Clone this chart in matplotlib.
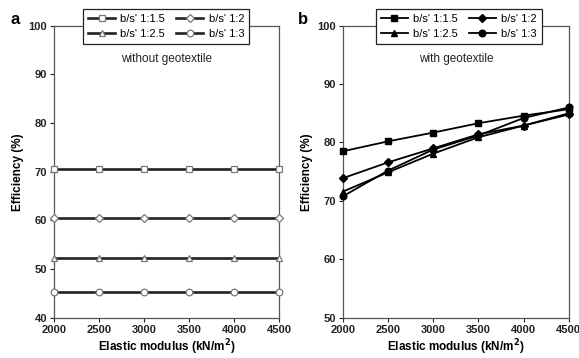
import matplotlib
matplotlib.use("Agg")
import matplotlib.pyplot as plt

plt.rcParams['font.family'] = ['Liberation Sans', 'DejaVu Sans']

modulus = [2000, 2500, 3000, 3500, 4000, 4500]
labels = ["b/s' 1:1.5", "b/s' 1:2", "b/s' 1:2.5", "b/s' 1:3"]

# panel a: without geotextile
a_15 = [70.5, 70.5, 70.5, 70.5, 70.5, 70.5]
a_2 = [60.5, 60.5, 60.5, 60.5, 60.5, 60.5]
a_25 = [52.3, 52.3, 52.3, 52.3, 52.3, 52.3]
a_3 = [45.3, 45.3, 45.3, 45.3, 45.3, 45.3]

# panel b: with geotextile
b_15 = [78.5, 80.2, 81.7, 83.3, 84.6, 85.7]
b_2 = [73.9, 76.6, 79.0, 81.4, 82.9, 84.8]
b_25 = [71.6, 74.9, 78.1, 80.9, 82.9, 85.0]
b_3 = [70.8, 75.2, 78.8, 81.2, 84.2, 86.0]

markers = ['s', 'D', '^', 'o']
msizes = [4.3, 4.3, 5.0, 4.8]

fig = plt.figure(figsize=(5.79, 3.58), dpi=100)
axa = fig.add_axes([0.0933, 0.1126, 0.389, 0.8156])
axb = fig.add_axes([0.5924, 0.1126, 0.390, 0.8156])

for ax, series, ylim, yt, filled, note, legx in [
    (axa, [a_15, a_2, a_25, a_3], (40, 100), range(40, 101, 10), False, "without geotextile", 0.498),
    (axb, [b_15, b_2, b_25, b_3], (50, 100), range(50, 101, 10), True, "with geotextile", 0.513),
]:
    handles = []
    for s, m, ms, lab in zip(series, markers, msizes, labels):
        if filled:
            h, = ax.plot(modulus, s, color='black', lw=1.3, marker=m, ms=ms,
                         mfc='black', mec='black', label=lab, clip_on=False, zorder=3)
        else:
            h, = ax.plot(modulus, s, color='#222222', lw=1.9, marker=m, ms=ms,
                         mfc='white', mec='#777777', mew=0.9, label=lab, clip_on=False, zorder=3)
        handles.append(h)
    ax.set_xlim(2000, 4500)
    ax.set_ylim(*ylim)
    ax.set_xticks(modulus)
    ax.set_yticks(list(yt))
    ax.tick_params(direction='out', length=3, width=0.8, labelsize=8, pad=2, colors='#222222')
    for t in ax.get_xticklabels() + ax.get_yticklabels():
        t.set_fontweight('bold')
    for sp in ax.spines.values():
        sp.set_color('#555555')
        sp.set_linewidth(0.9)
    ax.set_xlabel('Elastic modulus (kN/m$^\\mathbf{2}$)', fontsize=8.5, fontweight='bold', labelpad=2)
    ax.set_ylabel('Efficiency (%)', fontsize=8.5, fontweight='bold', labelpad=3)
    ax.text(0.5, 0.885, note, transform=ax.transAxes, ha='center', va='center', fontsize=8.5, color='#222222')
    order = [0, 2, 1, 3]
    leg = ax.legend([handles[i] for i in order], [labels[i] for i in order],
                    loc='center', bbox_to_anchor=(legx, 0.997), ncol=2, fontsize=8,
                    frameon=True, fancybox=False, edgecolor='#222222', handlelength=2.4,
                    columnspacing=1.0, handletextpad=0.5, borderpad=0.45, labelspacing=0.45,
                    framealpha=1)
    leg.get_frame().set_linewidth(0.9)
    leg.set_zorder(5)

fig.text(0.018, 0.945, 'a', fontsize=12, fontweight='bold', va='center')
fig.text(0.515, 0.945, 'b', fontsize=12, fontweight='bold', va='center')

fig.savefig('out.png', dpi=100)
